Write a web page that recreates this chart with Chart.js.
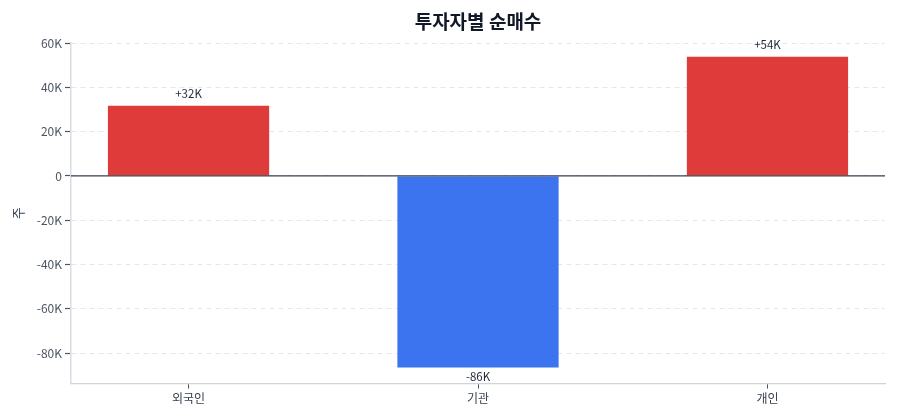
<!DOCTYPE html>
<html><head><meta charset="utf-8">
<script src="https://cdn.jsdelivr.net/npm/chart.js@4.4.0/dist/chart.umd.min.js"></script>
<style>html,body{margin:0;padding:0;background:#fff}#wrap{width:900px;height:420px}</style>
</head><body><div id="wrap"><canvas id="c" width="900" height="420"></canvas></div>
<script>
const categories = ['외국인', '기관', '개인'];
const netBuy = [31700, -86400, 53800];
const barColors = ['#DF3B3B', '#3B74EE', '#DF3B3B'];
const yTicks = [-80000, -60000, -40000, -20000, 0, 20000, 40000, 60000];
const titleText = '투자자별 순매수';
const yTitle = '주';

const FONT = "'Noto Sans CJK KR', 'Noto Sans', sans-serif";
function fmtK(v){ const k = Math.round(v/1000); return (k>0?'+':'') + k + 'K'; }
function tickK(v){ return v===0 ? '0' : (v/1000) + 'K'; }

const extras = {
  id: 'extras',
  afterDatasetsDraw(chart){
    const ctx = chart.ctx, ca = chart.chartArea, y = chart.scales.y;
    const y0 = y.getPixelForValue(0);
    ctx.save();
    ctx.strokeStyle = '#374151'; ctx.lineWidth = 1.3;
    ctx.beginPath(); ctx.moveTo(ca.left, y0); ctx.lineTo(ca.right, y0); ctx.stroke();
    ctx.font = "11.5px " + FONT; ctx.fillStyle = '#1f2937'; ctx.textAlign = 'center';
    const meta = chart.getDatasetMeta(0);
    meta.data.forEach((bar, i) => {
      const v = netBuy[i];
      if (v >= 0) { ctx.textBaseline = 'bottom'; ctx.fillText(fmtK(v), bar.x, bar.y - 6); }
      else { ctx.textBaseline = 'top'; ctx.fillText(fmtK(v), bar.x, bar.y + 3); }
    });
    ctx.font = "bold 19px " + FONT; ctx.fillStyle = '#111827'; ctx.textBaseline = 'middle';
    ctx.fillText(titleText, (ca.left + ca.right)/2, 22);
    ctx.restore();
  }
};

new Chart(document.getElementById('c'), {
  type: 'bar',
  data: { datasets: [{ data: categories.map((c, i) => ({ x: i, y: netBuy[i] })), backgroundColor: barColors, borderWidth: 0, barPercentage: 0.557, categoryPercentage: 1.0 }] },
  options: {
    responsive: false, animation: false, devicePixelRatio: 1,
    layout: { padding: { top: 43, right: 15, bottom: 11, left: 10 } },
    plugins: { legend: { display: false }, tooltip: { enabled: false }, title: { display: false } },
    scales: {
      x: {
        type: 'linear', min: -0.406, max: 2.406, offset: false,
        afterBuildTicks(s){ s.ticks = categories.map((c, i) => ({ value: i })); },
        grid: { display: true, offset: false, drawOnChartArea: false, drawTicks: true, tickLength: 5, tickColor: '#4b5563', tickWidth: 1 },
        border: { display: true, color: '#cfd4dc', width: 1.2 },
        ticks: { color: '#374151', font: { family: FONT, size: 12 }, padding: 3, callback: v => categories[v] }
      },
      y: {
        min: -93700, max: 60000,
        afterBuildTicks(s){ s.ticks = yTicks.map(v => ({ value: v })); },
        afterFit(s){ s.width = 61; },
        grid: { color: '#e5e7eb', lineWidth: 1, drawTicks: true, tickLength: 6, tickColor: '#4b5563', tickWidth: 1.2 },
        border: { display: true, color: '#d8dce3', width: 1.5, dash: [5, 4] },
        ticks: { color: '#4b5563', font: { family: FONT, size: 12 }, padding: 3, callback: v => tickK(v) },
        title: { display: true, text: yTitle, color: '#374151', font: { family: FONT, size: 13 }, padding: 0 }
      }
    }
  },
  plugins: [extras]
});
</script>
</body></html>
